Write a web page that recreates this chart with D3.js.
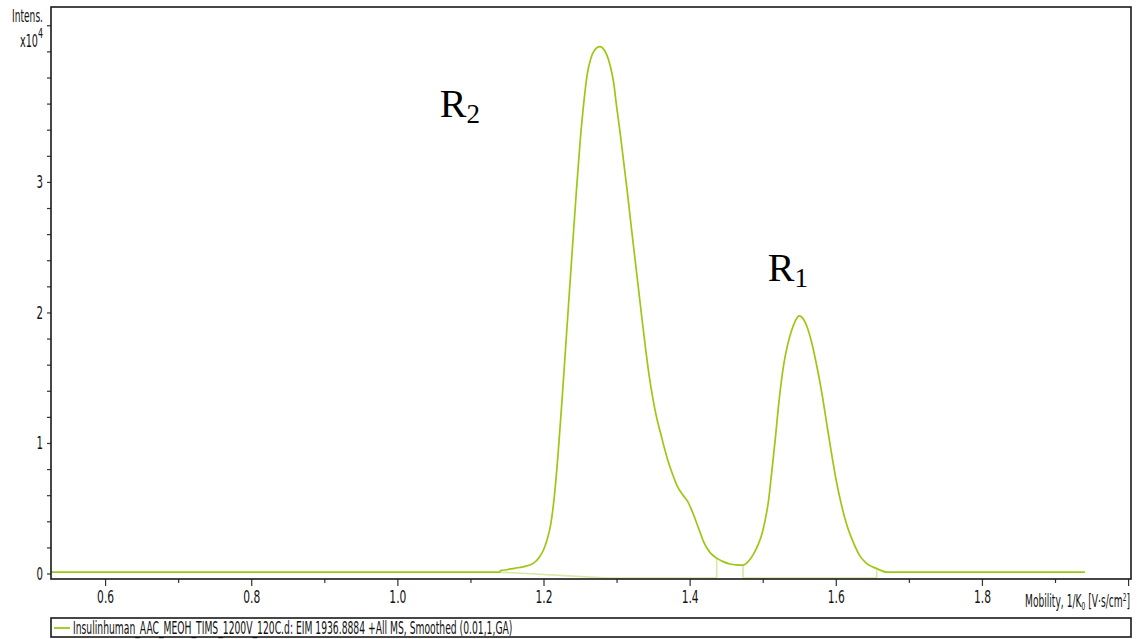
<!DOCTYPE html>
<html>
<head>
<meta charset="utf-8">
<script src="https://cdn.jsdelivr.net/npm/d3@7"></script>
<style>
  html, body { margin: 0; padding: 0; background: #ffffff; }
  svg { display: block; }
  .ax text { font-family: "Liberation Sans Narrow", "DejaVu Sans Condensed", "Liberation Sans", sans-serif; font-size: 18px; fill: #111; }
</style>
</head>
<body>
<svg id="chart" width="1142" height="639"></svg>
<script>
// ---------------- data (intensity in units of 10^4) ----------------
const mobility = [0.526, 1.140, 1.141, 1.150, 1.160, 1.172, 1.186, 1.195, 1.200, 1.205, 1.210, 1.215, 1.220, 1.225,
  1.230, 1.235, 1.240, 1.245, 1.250, 1.255, 1.260, 1.265, 1.270, 1.277, 1.284, 1.291, 1.296, 1.300, 1.305, 1.310,
  1.315, 1.320, 1.325, 1.330, 1.335, 1.340, 1.345, 1.350, 1.355, 1.360, 1.365, 1.370, 1.376, 1.383, 1.391, 1.398,
  1.405, 1.412, 1.419, 1.428, 1.437, 1.446, 1.455, 1.464, 1.473, 1.480, 1.487, 1.494, 1.499, 1.503, 1.508, 1.512,
  1.517, 1.521, 1.525, 1.529, 1.534, 1.540, 1.545, 1.550, 1.556, 1.560, 1.567, 1.574, 1.581, 1.587, 1.593, 1.600,
  1.608, 1.615, 1.624, 1.633, 1.642, 1.656, 1.670, 1.941];
const intensity = [0.011, 0.011, 0.022, 0.029, 0.040, 0.051, 0.078, 0.131, 0.180, 0.260, 0.380, 0.600, 0.920, 1.300,
  1.710, 2.120, 2.530, 2.930, 3.300, 3.600, 3.830, 3.950, 4.010, 4.036, 4.003, 3.896, 3.761, 3.580, 3.370, 3.140,
  2.910, 2.660, 2.420, 2.180, 1.940, 1.710, 1.500, 1.330, 1.190, 1.080, 0.970, 0.870, 0.770, 0.670, 0.600, 0.545,
  0.455, 0.350, 0.245, 0.160, 0.118, 0.091, 0.073, 0.066, 0.064, 0.091, 0.145, 0.225, 0.305, 0.400, 0.560, 0.760,
  1.020, 1.250, 1.450, 1.610, 1.750, 1.870, 1.940, 1.973, 1.946, 1.900, 1.770, 1.590, 1.380, 1.170, 0.960, 0.730,
  0.520, 0.374, 0.239, 0.135, 0.078, 0.038, 0.011, 0.011];

// integration baselines / peak boundaries
const integMobility1 = [1.140, 1.290, 1.437, 1.437];
const integIntensity1 = [0.011, -0.035, -0.035, 0.118];
const integMobility2 = [1.473, 1.473, 1.656, 1.656];
const integIntensity2 = [0.064, -0.035, -0.035, 0.038];

const xMajorTicks = [0.6, 0.8, 1.0, 1.2, 1.4, 1.6, 1.8, 2.0];
const xTickLabels = ["0.6", "0.8", "1.0", "1.2", "1.4", "1.6", "1.8", ""];
const xMinorTicks = [0.7, 0.9, 1.1, 1.3, 1.5, 1.7, 1.9];
const yTicks = [0, 0.2, 0.4, 0.6, 0.8, 1, 1.2, 1.4, 1.6, 1.8, 2, 2.2, 2.4, 2.6, 2.8, 3, 3.2, 3.4, 3.6, 3.8, 4, 4.2];
const yLabelled = [0, 1, 2, 3];

const peakNames = ["R", "R"];
const peakSubs = ["2", "1"];
const peakLabelMobility = [1.058, 1.507];
const peakLabelIntensity = [3.50, 2.24];

const legendText = "Insulinhuman_AAC_MEOH_TIMS_1200V_120C.d: EIM 1936.8884 +All MS, Smoothed (0.01,1,GA)";

// ---------------- layout ----------------
const svg = d3.select("#chart");
const L = 51, R = 1131, T = 7, B = 579;
const traceColor = "#9cc814";
const lightColor = "#d6e9a6";
const axFont = '"Liberation Sans Narrow", "DejaVu Sans Condensed", "Liberation Sans", sans-serif';

const x = d3.scaleLinear().domain([0.526, 2.004]).range([L, R]);
const y = d3.scaleLinear().domain([-0.042, 4.34]).range([B, T]);

function fitWidth(sel, target, anchor) {
  const node = sel.node();
  const bb = node.getBBox();
  if (!bb.width) return;
  anchor = anchor || sel.attr("text-anchor") || "start";
  let ax = bb.x;
  if (anchor === "end") ax = bb.x + bb.width;
  else if (anchor === "middle") ax = bb.x + bb.width / 2;
  const s = target / bb.width;
  const prev = sel.attr("transform") || "";
  sel.attr("transform", `${prev} translate(${ax},0) scale(${s},1) translate(${-ax},0)`);
}

svg.append("defs").append("clipPath").attr("id", "clip")
  .append("rect").attr("x", L).attr("y", T).attr("width", R - L).attr("height", B - T);

const plot = svg.append("g").attr("clip-path", "url(#clip)");

// integration markers
const lineGen = d3.line().x(d => x(d[0])).y(d => y(d[1]));
plot.append("path")
  .attr("d", lineGen(integMobility1.map((m, i) => [m, integIntensity1[i]])))
  .attr("fill", "none").attr("stroke", lightColor).attr("stroke-width", 1.6);
plot.append("path")
  .attr("d", lineGen(integMobility2.map((m, i) => [m, integIntensity2[i]])))
  .attr("fill", "none").attr("stroke", lightColor).attr("stroke-width", 1.6);

// trace
const traceGen = d3.line().x(d => x(d[0])).y(d => y(d[1])).curve(d3.curveMonotoneX);
plot.append("path")
  .attr("d", traceGen(mobility.map((m, i) => [m, intensity[i]])))
  .attr("fill", "none").attr("stroke", traceColor).attr("stroke-width", 1.7)
  .attr("stroke-linejoin", "round");

// x axis
const xAxis = svg.append("g").attr("class", "ax").attr("transform", `translate(0,${B})`)
  .call(d3.axisBottom(x).tickValues(xMajorTicks).tickSize(7).tickPadding(4)
    .tickFormat((d, i) => xTickLabels[i]));
xAxis.select(".domain").remove();
xAxis.selectAll("line").attr("stroke", "#333").attr("stroke-width", 1.2);
xAxis.selectAll("text").each(function () { fitWidth(d3.select(this), 17, "middle"); });

const xMinor = svg.append("g").attr("transform", `translate(0,${B})`)
  .call(d3.axisBottom(x).tickValues(xMinorTicks).tickSize(4).tickFormat(""));
xMinor.select(".domain").remove();
xMinor.selectAll("line").attr("stroke", "#333").attr("stroke-width", 1.2);

// y axis
const yAxis = svg.append("g").attr("class", "ax").attr("transform", `translate(${L},0)`)
  .call(d3.axisLeft(y).tickValues(yTicks).tickSize(4).tickPadding(4)
    .tickFormat(d => yLabelled.some(v => Math.abs(v - d) < 1e-9) ? d3.format("d")(d) : ""));
yAxis.select(".domain").remove();
yAxis.selectAll("line").attr("stroke", "#333").attr("stroke-width", 1.2);
yAxis.selectAll("text").each(function () { fitWidth(d3.select(this), 6.5, "end"); });

// frame
svg.append("rect").attr("x", L).attr("y", T).attr("width", R - L).attr("height", B - T)
  .attr("fill", "none").attr("stroke", "#1a1a1a").attr("stroke-width", 1.6);

// y axis title
const t1 = svg.append("text").attr("x", 43).attr("y", 22).attr("text-anchor", "end")
  .attr("font-family", axFont).attr("font-size", 17).attr("fill", "#111").text("Intens.");
fitWidth(t1, 31);
const t2 = svg.append("text").attr("x", 43).attr("y", 47).attr("text-anchor", "end")
  .attr("font-family", axFont).attr("font-size", 17).attr("fill", "#111");
t2.append("tspan").text("x10");
t2.append("tspan").attr("dy", -9).attr("font-size", 14).text("4");
fitWidth(t2, 23);

// x axis title
const xt = svg.append("text").attr("x", 1130).attr("y", 607).attr("text-anchor", "end")
  .attr("font-family", axFont).attr("font-size", 17).attr("fill", "#111");
xt.append("tspan").text("Mobility, 1/K");
xt.append("tspan").attr("font-size", 11).attr("dy", 3).text("0");
xt.append("tspan").attr("dy", -3).text(" [V·s/cm");
xt.append("tspan").attr("font-size", 11).attr("dy", -6).text("2");
xt.append("tspan").attr("dy", 6).text("]");
fitWidth(xt, 105);

// peak labels
peakNames.forEach((n, i) => {
  const tx = svg.append("text")
    .attr("x", x(peakLabelMobility[i])).attr("y", y(peakLabelIntensity[i]))
    .attr("font-family", '"Liberation Serif", "Times New Roman", serif')
    .attr("font-size", 40).attr("fill", "#000");
  tx.append("tspan").text(n);
  tx.append("tspan").attr("font-size", 27).attr("dy", 6).text(peakSubs[i]);
});

// legend
svg.append("rect").attr("x", L).attr("y", 618).attr("width", R - L).attr("height", 19)
  .attr("fill", "#fff").attr("stroke", "#1a1a1a").attr("stroke-width", 1.6);
svg.append("line").attr("x1", 54).attr("x2", 70).attr("y1", 628).attr("y2", 628)
  .attr("stroke", traceColor).attr("stroke-width", 1.8);
const lt = svg.append("text").attr("x", 73).attr("y", 634)
  .attr("font-family", axFont).attr("font-size", 17).attr("fill", "#111").text(legendText);
fitWidth(lt, 440);
</script>
</body>
</html>
